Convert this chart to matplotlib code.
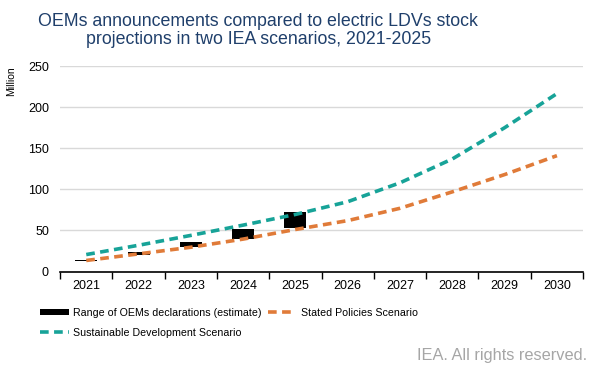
import matplotlib.pyplot as plt
import matplotlib.patches as patches
from matplotlib.lines import Line2D

plt.rcParams['font.family'] = ['Liberation Sans', 'DejaVu Sans']

# Data
years = ["2021", "2022", "2023", "2024", "2025", "2026", "2027", "2028", "2029", "2030"]
oem_low = [12.6, 20.3, 29.6, 39.4, 52.8]
oem_high = [14.2, 23.2, 35.7, 51.6, 72.3]
steps = [13.5, 21.5, 29.6, 39.5, 51.2, 62, 77, 97, 118, 141]
sds = [20.7, 32, 44, 56.5, 69.5, 85, 108, 137, 175, 216.5]

teal = "#17A398"
orange = "#E07B39"

fig = plt.figure(figsize=(5.95, 3.71), dpi=100)
ax = fig.add_axes([0.101, 0.268, 0.879, 0.554])

x = list(range(len(years)))

# Range bars
ax.bar(x[:len(oem_low)], [h - l for l, h in zip(oem_low, oem_high)], bottom=oem_low,
       width=0.42, color="black", zorder=2)

# Scenario lines
ax.plot(x, steps, color=orange, lw=2.6, dashes=(2.4, 1.5), zorder=3,
        solid_joinstyle='round', dash_joinstyle='round')
ax.plot(x, sds, color=teal, lw=2.6, dashes=(2.4, 1.5), zorder=3,
        solid_joinstyle='round', dash_joinstyle='round')

# Axes styling
ax.set_xlim(-0.5, len(years) - 0.5)
ax.set_ylim(0, 250)
ax.set_yticks([0, 50, 100, 150, 200, 250])
ax.set_xticks(x)
ax.set_xticklabels(years)
ax.set_xticks([i - 0.5 for i in range(len(years) + 1)], minor=True)
ax.tick_params(axis='x', which='major', length=0, labelsize=9, pad=6)
ax.tick_params(axis='x', which='minor', length=5, width=1, color="black")
ax.tick_params(axis='y', length=0, labelsize=9, pad=8)
ax.grid(axis='y', color="#D9D9D9", lw=1)
ax.set_axisbelow(True)
for s in ['top', 'right', 'left']:
    ax.spines[s].set_visible(False)
ax.spines['bottom'].set_color("black")
ax.spines['bottom'].set_linewidth(1.2)

# Title and labels
fig.text(0.434, 0.965, "OEMs announcements compared to electric LDVs stock\nprojections in two IEA scenarios, 2021-2025",
         ha='center', va='top', fontsize=12.8, color="#1F3F6B", linespacing=1.1)
fig.text(0.018, 0.822, "Million", rotation=90, ha='center', va='top', fontsize=7.5)
fig.text(0.986, 0.022, "IEA. All rights reserved.", ha='right', va='bottom', fontsize=11.8, color="#A6A6A6")

# Legend
handles = [
    patches.Rectangle((0, 0), 1, 1, facecolor="black"),
    Line2D([], [], color=teal, lw=2.6, dashes=(2.4, 1.5)),
    Line2D([], [], color=orange, lw=2.6, dashes=(2.4, 1.5)),
]
labels = ["Range of OEMs declarations (estimate)", "Sustainable Development Scenario",
          "Stated Policies Scenario"]
fig.legend(handles, labels, ncol=2, loc='upper left', bbox_to_anchor=(0.06, 0.182),
           frameon=False, fontsize=7.7, handlelength=2.7, handleheight=0.55,
           handletextpad=0.4, columnspacing=0.55, labelspacing=0.95, borderaxespad=0)

fig.savefig("out.png", dpi=100)
